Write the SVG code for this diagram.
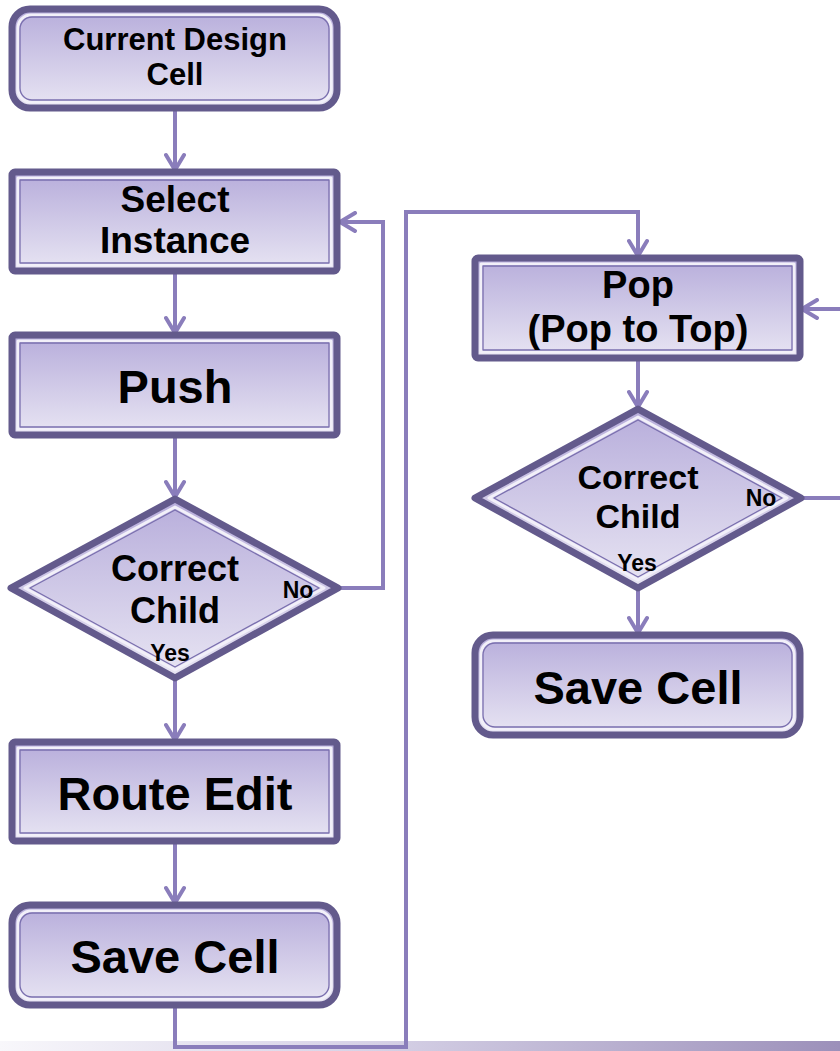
<svg xmlns="http://www.w3.org/2000/svg" width="840" height="1051" viewBox="0 0 840 1051">
<defs>
<linearGradient id="fillG" x1="0" y1="0" x2="0" y2="1">
<stop offset="0" stop-color="#b7addb"/>
<stop offset="1" stop-color="#e8e5f3"/>
</linearGradient>
<linearGradient id="barG" x1="0" y1="0" x2="1" y2="0">
<stop offset="0" stop-color="#f8f7fb"/>
<stop offset="0.45" stop-color="#d6d1e6"/>
<stop offset="1" stop-color="#9c90ba"/>
</linearGradient>
<marker id="arr" viewBox="0 0 22 22" refX="19" refY="11" markerWidth="22" markerHeight="22" markerUnits="userSpaceOnUse" orient="auto">
<path d="M4,2 L19,11 L4,20" fill="none" stroke="#8a7dbb" stroke-width="4" stroke-linecap="round" stroke-linejoin="round"/>
</marker>
<style>
.outer{fill:url(#fillG);stroke:#635a8c;stroke-width:7;stroke-linejoin:round}
.hl{fill:none;stroke:#f2f0f9;stroke-width:3;stroke-linejoin:round}
.in{fill:none;stroke:#7a6fae;stroke-width:1.3;stroke-linejoin:round}
.t{font-family:"Liberation Sans",Arial,sans-serif;font-weight:bold;fill:#000;text-anchor:middle}
.s{font-family:"Liberation Sans",Arial,sans-serif;font-weight:bold;fill:#000;text-anchor:middle;font-size:23px}
.c{fill:none;stroke:#8a7dbb;stroke-width:4;stroke-linejoin:miter}
</style>
</defs>
<rect x="0" y="1041" width="840" height="10" fill="url(#barG)"/>
<g id="connectors">
<path class="c" d="M175,110 V170" marker-end="url(#arr)"/>
<path class="c" d="M175,273 V333" marker-end="url(#arr)"/>
<path class="c" d="M175,437 V497" marker-end="url(#arr)"/>
<path class="c" d="M340,588 H383 V222 H340" marker-end="url(#arr)"/>
<path class="c" d="M175,680 V740" marker-end="url(#arr)"/>
<path class="c" d="M175,843 V903" marker-end="url(#arr)"/>
<path class="c" d="M175,1007 V1047 H406 V212 H638 V256" marker-end="url(#arr)"/>
<path class="c" d="M638,360 V407" marker-end="url(#arr)"/>
<path class="c" d="M638,590 V633" marker-end="url(#arr)"/>
<path class="c" d="M803,498 H840"/>
<path class="c" d="M840,309 H802" marker-end="url(#arr)"/>
</g>
<g id="current-design-cell">
<rect class="outer" x="12" y="9" width="325" height="99" rx="18"/>
<rect class="hl" x="18" y="15" width="313" height="87" rx="13"/>
<rect class="in" x="20" y="17" width="309" height="83" rx="12"/>
<text class="t" x="175" y="50" font-size="31">Current Design</text>
<text class="t" x="175" y="85" font-size="31">Cell</text>
</g>
<g id="select-instance">
<rect class="outer" x="12" y="172" width="325" height="99" rx="3"/>
<rect class="hl" x="18" y="178" width="313" height="87"/>
<rect class="in" x="20" y="180" width="309" height="83"/>
<text class="t" x="175" y="212" font-size="37">Select</text>
<text class="t" x="175" y="253" font-size="37">Instance</text>
</g>
<g id="push">
<rect class="outer" x="12" y="335" width="325" height="100" rx="3"/>
<rect class="hl" x="18" y="341" width="313" height="88"/>
<rect class="in" x="20" y="343" width="309" height="84"/>
<text class="t" x="175" y="403" font-size="47">Push</text>
</g>
<g id="correct-child-1">
<polygon class="outer" points="175,499 338,588 175,678 11,588"/>
<polygon class="hl" points="175,507 324,588 175,670 25,588"/>
<polygon class="in" points="175,510 319,588 175,667 30,588"/>
<text class="t" x="175" y="581" font-size="36">Correct</text>
<text class="t" x="175" y="623" font-size="36">Child</text>
<text class="s" x="298" y="598">No</text>
<text class="s" x="170" y="661">Yes</text>
</g>
<g id="route-edit">
<rect class="outer" x="12" y="742" width="325" height="99" rx="3"/>
<rect class="hl" x="18" y="748" width="313" height="87"/>
<rect class="in" x="20" y="750" width="309" height="83"/>
<text class="t" x="175" y="810" font-size="47">Route Edit</text>
</g>
<g id="save-cell-1">
<rect class="outer" x="12" y="905" width="325" height="100" rx="18"/>
<rect class="hl" x="18" y="911" width="313" height="88" rx="13"/>
<rect class="in" x="20" y="913" width="309" height="84" rx="12"/>
<text class="t" x="175" y="973" font-size="47">Save Cell</text>
</g>
<g id="pop">
<rect class="outer" x="475" y="258" width="325" height="100" rx="3"/>
<rect class="hl" x="481" y="264" width="313" height="88"/>
<rect class="in" x="483" y="266" width="309" height="84"/>
<text class="t" x="638" y="298" font-size="38">Pop</text>
<text class="t" x="638" y="342" font-size="38">(Pop to Top)</text>
</g>
<g id="correct-child-2">
<polygon class="outer" points="638,409 801,498 638,588 475,498"/>
<polygon class="hl" points="638,417 787,498 638,580 489,498"/>
<polygon class="in" points="638,420 782,498 638,577 494,498"/>
<text class="t" x="638" y="489" font-size="34">Correct</text>
<text class="t" x="638" y="528" font-size="34">Child</text>
<text class="s" x="761" y="506">No</text>
<text class="s" x="637" y="571">Yes</text>
</g>
<g id="save-cell-2">
<rect class="outer" x="475" y="635" width="325" height="100" rx="18"/>
<rect class="hl" x="481" y="641" width="313" height="88" rx="13"/>
<rect class="in" x="483" y="643" width="309" height="84" rx="12"/>
<text class="t" x="638" y="704" font-size="47">Save Cell</text>
</g>
</svg>
